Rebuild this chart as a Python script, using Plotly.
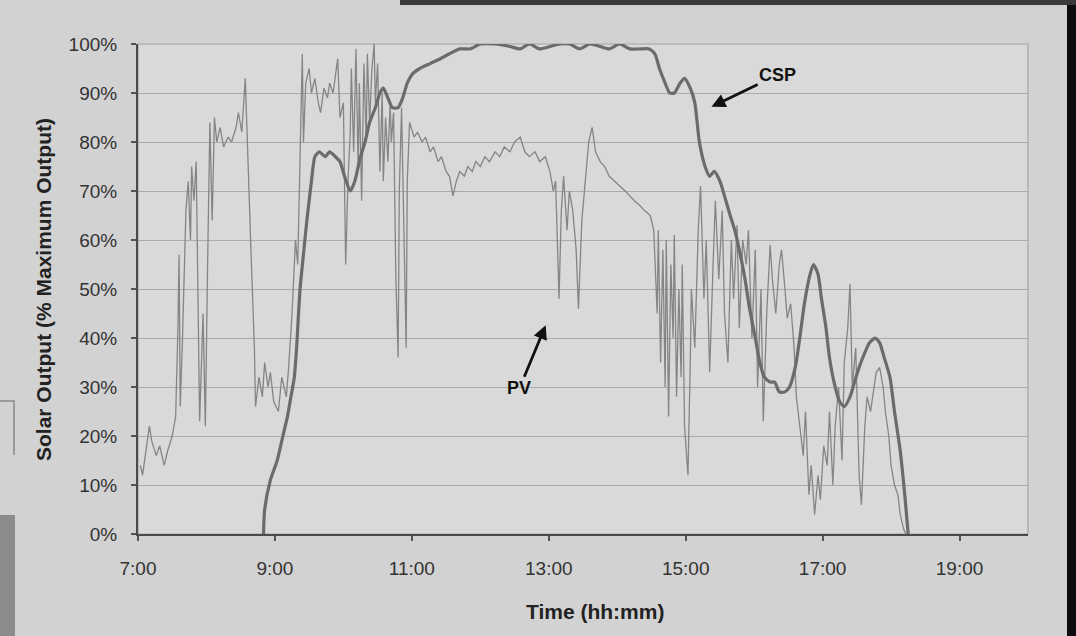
import plotly.graph_objects as go

# ---------------- data ----------------
csp_time = ["8:50", "8:51", "8:56", "9:02", "9:07", "9:11", "9:14", "9:17", "9:19", "9:22",
            "9:25", "9:28", "9:32", "9:35", "9:39", "9:44", "9:48", "9:53", "9:57", "10:01",
            "10:06", "10:10", "10:15", "10:19", "10:23", "10:28", "10:32", "10:35", "10:39", "10:43",
            "10:48", "10:52", "10:56", "11:01", "11:07", "11:16", "11:25", "11:33", "11:42", "11:51",
            "12:00", "12:13", "12:26", "12:35", "12:43", "12:52", "13:01", "13:10", "13:18", "13:27",
            "13:36", "13:45", "13:53", "14:02", "14:11", "14:20", "14:28", "14:33", "14:37", "14:42",
            "14:46", "14:50", "14:55", "14:59", "15:04", "15:08", "15:12", "15:17", "15:21", "15:25",
            "15:30", "15:34", "15:39", "15:43", "15:47", "15:52", "15:56", "16:01", "16:05", "16:09",
            "16:14", "16:18", "16:22", "16:27", "16:31", "16:36", "16:40", "16:44", "16:49", "16:52",
            "16:56", "16:59", "17:03", "17:06", "17:11", "17:15", "17:19", "17:24", "17:28", "17:32",
            "17:37", "17:41", "17:46", "17:50", "17:54", "17:59", "18:03", "18:08", "18:12", "18:15"]
csp_value = [0, 5, 11, 15, 20, 24, 28, 32, 38, 50,
             57, 64, 72, 77, 78, 77, 78, 77, 76, 73,
             70, 72, 77, 80, 84, 87, 90, 91, 89, 87,
             87, 89, 92, 94, 95, 96, 97, 98, 99, 99,
             100, 100, 99.5, 99, 100, 99, 99.5, 100, 100, 99,
             100, 99.5, 99, 100, 99, 99, 99, 98, 95, 92,
             90, 90, 92, 93, 91, 88, 80, 75, 73, 74,
             72, 69, 65, 62, 58, 52, 46, 40, 35, 32,
             31, 31, 29, 29, 30, 34, 40, 47, 53, 55,
             53, 48, 42, 36, 30, 27, 26, 28, 31, 34,
             37, 39, 40, 39, 36, 32, 25, 17, 8, 0]

pv_time = ["7:02", "7:04", "7:07", "7:10", "7:12", "7:16", "7:19", "7:23", "7:26", "7:30",
           "7:33", "7:35", "7:36", "7:37", "7:39", "7:42", "7:44", "7:46", "7:47", "7:49",
           "7:51", "7:53", "7:54", "7:57", "7:59", "8:01", "8:03", "8:05", "8:07", "8:09",
           "8:12", "8:15", "8:19", "8:22", "8:26", "8:28", "8:31", "8:34", "8:36", "8:39",
           "8:42", "8:43", "8:46", "8:49", "8:51", "8:54", "8:56", "8:59", "9:03", "9:06",
           "9:10", "9:12", "9:15", "9:18", "9:20", "9:22", "9:24", "9:25", "9:27", "9:30",
           "9:32", "9:35", "9:38", "9:40", "9:43", "9:46", "9:48", "9:51", "9:53", "9:55",
           "9:57", "10:00", "10:02", "10:04", "10:06", "10:07", "10:09", "10:11", "10:13", "10:14",
           "10:16", "10:18", "10:20", "10:21", "10:23", "10:25", "10:27", "10:28", "10:30", "10:32",
           "10:34", "10:35", "10:37", "10:39", "10:41", "10:42", "10:44", "10:46", "10:48", "10:49",
           "10:51", "10:53", "10:55", "10:56", "10:58", "11:02", "11:05", "11:09", "11:12", "11:16",
           "11:19", "11:23", "11:26", "11:30", "11:33", "11:36", "11:39", "11:42", "11:46", "11:49",
           "11:53", "11:56", "12:00", "12:04", "12:08", "12:13", "12:17", "12:21", "12:26", "12:30",
           "12:35", "12:39", "12:43", "12:48", "12:52", "12:57", "13:01", "13:04", "13:06", "13:09",
           "13:11", "13:13", "13:16", "13:18", "13:21", "13:24", "13:26", "13:29", "13:32", "13:35",
           "13:38", "13:41", "13:45", "13:49", "13:53", "13:58", "14:02", "14:07", "14:11", "14:15",
           "14:20", "14:24", "14:29", "14:32", "14:35", "14:36", "14:38", "14:40", "14:42", "14:43",
           "14:45", "14:47", "14:49", "14:50", "14:52", "14:54", "14:56", "14:57", "14:59", "15:02",
           "15:04", "15:05", "15:08", "15:11", "15:13", "15:16", "15:18", "15:21", "15:24", "15:26",
           "15:29", "15:32", "15:34", "15:37", "15:40", "15:42", "15:45", "15:47", "15:50", "15:53",
           "15:55", "15:58", "16:01", "16:03", "16:06", "16:08", "16:11", "16:14", "16:16", "16:19",
           "16:22", "16:24", "16:27", "16:29", "16:32", "16:35", "16:37", "16:40", "16:43", "16:45",
           "16:48", "16:50", "16:53", "16:56", "16:58", "17:01", "17:04", "17:06", "17:09", "17:11",
           "17:14", "17:17", "17:19", "17:22", "17:24", "17:26", "17:29", "17:32", "17:34", "17:37",
           "17:39", "17:42", "17:45", "17:47", "17:50", "17:53", "17:55", "17:58", "18:00", "18:03",
           "18:06", "18:08", "18:11", "18:13"]
pv_value = [14, 12, 17, 22, 19, 16, 18, 14, 17, 20,
            24, 42, 57, 26, 40, 66, 72, 60, 75, 68,
            76, 40, 23, 45, 22, 55, 84, 64, 85, 80,
            83, 79, 81, 80, 83, 86, 82, 93, 78, 58,
            38, 26, 32, 28, 35, 30, 33, 27, 25, 32,
            28, 34, 45, 60, 55, 75, 98, 80, 92, 95,
            90, 93, 88, 86, 91, 89, 92, 90, 94, 97,
            85, 88, 55, 72, 82, 95, 78, 99, 74, 92,
            68, 96, 80, 98, 84, 95, 100, 88, 96, 74,
            90, 72, 85, 76, 88, 80, 86, 52, 36, 70,
            87, 60, 38, 72, 84, 81, 82, 80, 81, 78,
            79, 76, 77, 74, 73, 69, 72, 74, 73, 75,
            74, 76, 75, 77, 76, 78, 77, 79, 78, 80,
            81, 78, 77, 78, 76, 77, 74, 70, 72, 48,
            66, 73, 62, 70, 66, 58, 46, 64, 72, 80,
            83, 78, 76, 75, 73, 72, 71, 70, 69, 68,
            67, 66, 65, 62, 45, 62, 35, 58, 30, 60,
            24, 55, 40, 61, 28, 50, 32, 55, 22, 12,
            35, 50, 38, 62, 71, 48, 60, 33, 55, 68,
            52, 66, 45, 35, 60, 48, 63, 42, 60, 55,
            62, 40, 58, 30, 50, 23, 45, 59, 52, 45,
            55, 58, 50, 44, 47, 38, 28, 22, 16, 25,
            8, 14, 4, 12, 7, 18, 14, 25, 10, 22,
            30, 15, 35, 42, 51, 30, 38, 12, 6, 22,
            28, 25, 30, 33, 34, 30, 25, 20, 14, 10,
            8, 4, 1, 0]

x_tick_values = ["7:00", "9:00", "11:00", "13:00", "15:00", "17:00", "19:00"]
y_tick_values = [0, 10, 20, 30, 40, 50, 60, 70, 80, 90, 100]
x_title = "Time (hh:mm)"
y_title = "Solar Output (% Maximum Output)"


def hours(s):
    h, m = s.split(":")
    return int(h) + int(m) / 60.0


FONT = "Arial, 'Liberation Sans', sans-serif"

fig = go.Figure()
fig.add_trace(go.Scatter(
    x=[hours(t) for t in pv_time], y=pv_value, mode="lines", name="PV",
    line=dict(color="#858585", width=1.3), showlegend=False))
fig.add_trace(go.Scatter(
    x=[hours(t) for t in csp_time], y=csp_value, mode="lines", name="CSP",
    line=dict(color="#6b6b6b", width=3.2, shape="spline", smoothing=0.6), showlegend=False))

# ---------- layout ----------
L, R, T, B = 138, 48, 44, 102
W, H = 1076, 636
pw, ph = W - L - R, H - T - B


def px(x):
    return (x - L) / pw


def py(y):
    return (H - B - y) / ph


shapes = [
    # plot-area frame (top/right light grey)
    dict(type="rect", xref="paper", yref="paper", x0=0, x1=1, y0=0, y1=1,
         line=dict(color="#a4a4a4", width=1.2), layer="below"),
    # scan edges
    dict(type="rect", xref="paper", yref="paper", x0=px(1067), x1=px(1080), y0=py(-5), y1=py(640),
         fillcolor="#0c0c0c", line=dict(width=0)),
    dict(type="rect", xref="paper", yref="paper", x0=px(400), x1=px(1080), y0=py(-5), y1=py(5),
         fillcolor="#3a3a3a", line=dict(width=0)),
    dict(type="rect", xref="paper", yref="paper", x0=px(-5), x1=px(15), y0=py(515), y1=py(640),
         fillcolor="#8c8c8c", line=dict(width=0)),
    dict(type="path", xref="paper", yref="paper",
         path=f"M {px(0)} {py(401)} L {px(14)} {py(401)} L {px(14)} {py(455)}",
         line=dict(color="#9a9a9a", width=2)),
]

annotations = [
    dict(x=hours("15:21"), y=87, xref="x", yref="y", text="<b>CSP</b>", showarrow=True,
         ax=68, ay=-33, arrowhead=2, arrowsize=1, arrowwidth=2.8, arrowcolor="#111",
         font=dict(family=FONT, size=18, color="#111"), standoff=2),
    dict(x=hours("12:58"), y=43, xref="x", yref="y", text="<b>PV</b>", showarrow=True,
         ax=-27, ay=65, arrowhead=2, arrowsize=1, arrowwidth=2.8, arrowcolor="#111",
         font=dict(family=FONT, size=18, color="#111"), standoff=2),
    dict(x=px(595), y=py(611), xref="paper", yref="paper", text=f"<b>{x_title}</b>",
         showarrow=False, font=dict(family=FONT, size=21, color="#222"),
         xanchor="center", yanchor="middle"),
    dict(x=px(43), y=py(290), xref="paper", yref="paper", text=f"<b>{y_title}</b>",
         showarrow=False, textangle=-90, font=dict(family=FONT, size=21, color="#222"),
         xanchor="center", yanchor="middle"),
]

fig.update_layout(
    width=W, height=H, autosize=False,
    margin=dict(l=L, r=R, t=T, b=B, pad=0),
    paper_bgcolor="#d2d2d2", plot_bgcolor="#d9d9d9",
    font=dict(family=FONT, size=19, color="#333"),
    shapes=shapes, annotations=annotations,
    xaxis=dict(range=[7, 20], tickvals=[hours(t) for t in x_tick_values], ticktext=x_tick_values,
               showgrid=False, zeroline=False, showline=True, linecolor="#4a4a4a", linewidth=2,
               ticks="outside", ticklen=5, tickcolor="#555", tickwidth=1.5,
               ticklabelstandoff=11, tickfont=dict(size=19, color="#333")),
    yaxis=dict(range=[0, 100], tickvals=y_tick_values, ticktext=[f"{v}%" for v in y_tick_values],
               showgrid=True, gridcolor="#ababab", gridwidth=1, zeroline=False,
               showline=True, linecolor="#4a4a4a", linewidth=2,
               ticks="outside", ticklen=5, tickcolor="#555", tickwidth=1.5,
               ticklabelstandoff=10, tickfont=dict(size=19, color="#333")),
)

fig.write_html("out.html", config={"displayModeBar": False},
               post_script="document.body.style.margin='0';document.body.style.background='#d2d2d2';")
